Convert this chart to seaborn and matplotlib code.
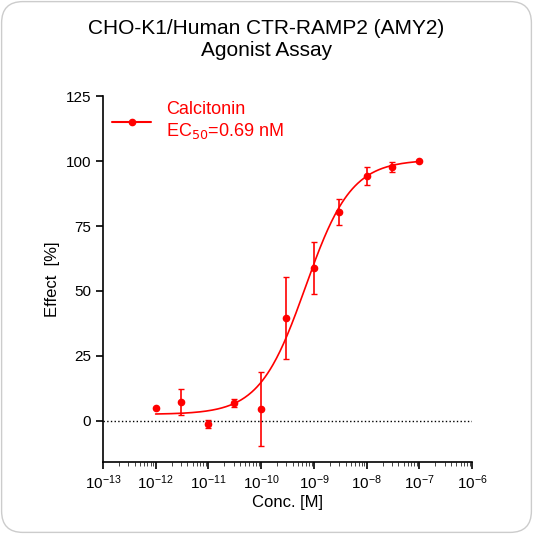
import numpy as np
import matplotlib
matplotlib.use("Agg")
import matplotlib.pyplot as plt
import seaborn as sns
from matplotlib.patches import FancyBboxPatch

conc = [1e-12, 3e-12, 1e-11, 3e-11, 1e-10, 3e-10, 1e-9, 3e-9, 1e-8, 3e-8, 1e-7]
effect = [5.0, 7.3, -1.2, 7.0, 4.6, 39.6, 58.8, 80.4, 94.2, 97.7, 100.0]
err = [0, 5.0, 1.5, 1.5, 14.2, 15.6, 10.0, 5.0, 3.5, 2.0, 0]
ec50 = 0.69e-9
bottom, top, hill = 2.5, 100.5, 1.0

sns.set_style("ticks")
plt.rcParams['font.family'] = ['Liberation Sans', 'DejaVu Sans']

fig = plt.figure(figsize=(5.33, 5.34), dpi=100)
fig.patch.set_facecolor("white")
frame = FancyBboxPatch((0.003, 0.003), 0.994, 0.994, boxstyle="round,pad=0,rounding_size=0.04",
                       transform=fig.transFigure, facecolor="white", edgecolor="#cccccc", lw=1, zorder=-10)
fig.patches.append(frame)
ax = fig.add_axes([0.193, 0.135, 0.693, 0.685])
ax.set_facecolor("none")

xs = np.logspace(-12, -7, 300)
ys = bottom + (top - bottom) / (1 + (ec50 / xs) ** hill)
sns.lineplot(x=xs, y=ys, ax=ax, color="red", lw=1.2)
ax.errorbar(conc, effect, yerr=err, fmt="o", color="red", ms=4.5, capsize=2.5, elinewidth=1.2)
ax.axhline(0, color="black", ls=":", lw=1)

ax.set_xscale("log")
ax.set_xlim(1e-13, 1e-6)
ax.set_ylim(-15.8, 125)
ax.set_xticks([10.0 ** k for k in range(-13, -5)])
ax.set_yticks([0, 25, 50, 75, 100, 125])
ax.tick_params(labelsize=11, width=1.2, length=5, colors="black")
ax.tick_params(axis="x", which="minor", length=3)
for s in ["left", "bottom"]:
    ax.spines[s].set_linewidth(1.2)
    ax.spines[s].set_color("black")
sns.despine(ax=ax)
ax.set_xlabel("Conc. [M]", fontsize=12, labelpad=2, color="black")
ax.set_ylabel("Effect  [%]", fontsize=12, color="black")

ax.plot([], [], "-o", color="red", ms=4.5, label="Calcitonin\nEC$_{50}$=0.69 nM")
h, l = ax.get_legend_handles_labels()
ax.legend([h[-1]], [l[-1]], loc="upper left", frameon=False, fontsize=13, labelcolor="red",
          bbox_to_anchor=(-0.02, 1.03), handlelength=2.2)

fig.suptitle("CHO-K1/Human CTR-RAMP2 (AMY2)\nAgonist Assay", fontsize=15, y=0.965, color="black")
fig.savefig("out.png", dpi=100)
